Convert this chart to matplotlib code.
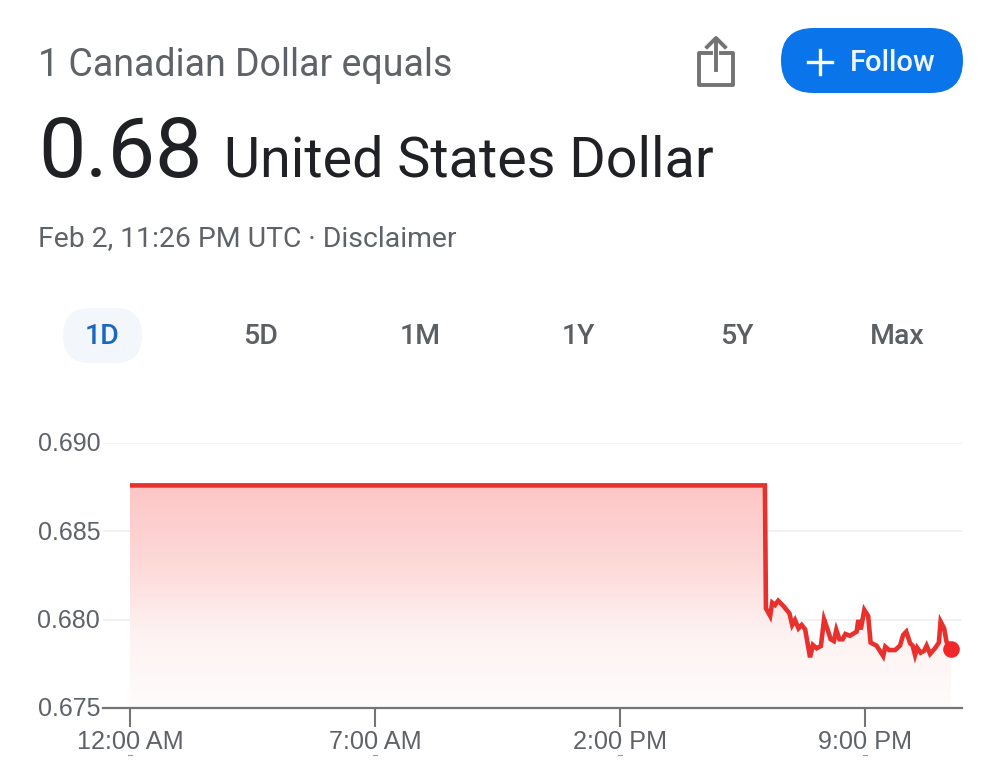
# plot.py
import numpy as np
import matplotlib
matplotlib.use("Agg")
import matplotlib.pyplot as plt
from matplotlib.patches import FancyBboxPatch, Polygon
from matplotlib.colors import LinearSegmentedColormap
from matplotlib.transforms import ScaledTranslation

# hours since midnight, CAD to USD rate
hours = [0, 18.14, 18.17, 18.29, 18.35, 18.43, 18.52, 18.67, 18.84, 18.92, 19.0, 19.10,
         19.19, 19.29, 19.43, 19.51, 19.62, 19.74, 19.83, 19.92, 20.02, 20.11, 20.18,
         20.27, 20.36, 20.44, 20.57, 20.76, 20.81, 20.88, 20.98, 21.09, 21.16, 21.33,
         21.52, 21.58, 21.69, 21.86, 22.0, 22.09, 22.18, 22.29, 22.36, 22.43, 22.49,
         22.59, 22.69, 22.76, 22.86, 23.0, 23.11, 23.16, 23.26, 23.33, 23.46]
rate = [0.6876, 0.6876, 0.68064, 0.68021, 0.68096, 0.68083, 0.68107, 0.68077, 0.68036,
        0.6797, 0.67998, 0.67951, 0.6797, 0.67945, 0.67787, 0.67857, 0.67838, 0.67851,
        0.68002, 0.67951, 0.67889, 0.67879, 0.67942, 0.67889, 0.67889, 0.67919, 0.67909,
        0.67932, 0.67998, 0.67945, 0.68055, 0.68021, 0.6787, 0.67853, 0.67794, 0.67847,
        0.67828, 0.67828, 0.67853, 0.67913, 0.67932, 0.67866, 0.67853, 0.678, 0.67841,
        0.67813, 0.67824, 0.67853, 0.67806, 0.67838, 0.6787, 0.67989, 0.67951, 0.67875,
        0.67834]

y_ticks = [0.675, 0.680, 0.685, 0.690]
y_labels = ["0.675", "0.680", "0.685", "0.690"]
x_ticks = [0, 7, 14, 21]
x_labels = ["12:00 AM", "7:00 AM", "2:00 PM", "9:00 PM"]
ranges = ["1D", "5D", "1M", "1Y", "5Y", "Max"]

W, H = 1000, 767
GREY = "#5f6368"
DARK = "#202124"
RED = "#e8302c"

plt.rcParams["font.family"] = ["Roboto", "DejaVu Sans"]
fig = plt.figure(figsize=(W / 100, H / 100), dpi=100, facecolor="white")

# chart area, placed in pixels (x 103-962, y 443-708)
ax = fig.add_axes([103 / W, 1 - 708 / H, (962 - 103) / W, (708 - 443) / H])
ax.set_xlim(-27 / 35, 832 / 35)
ax.set_ylim(0.675, 0.690)
for s in ["top", "right", "left"]:
    ax.spines[s].set_visible(False)
ax.spines["bottom"].set_color("#757575")
ax.spines["bottom"].set_linewidth(1.6)

ax.set_yticks(y_ticks)
ax.set_yticklabels(y_labels, family="Liberation Sans", fontsize=18, color=GREY)
ax.tick_params(axis="y", length=0, pad=2)
ax.set_xticks(x_ticks)
ax.set_xticklabels(x_labels, family="Liberation Sans", fontsize=18.2, color=GREY)
ax.tick_params(axis="x", length=14, width=1.5, color="#757575", pad=2)
nudge = ScaledTranslation(0, -1.5 / 100, fig.dpi_scale_trans)
for t in ax.get_yticklabels():
    t.set_verticalalignment("center")
    t.set_transform(t.get_transform() + nudge)
ax.grid(axis="y", color="#f0f0f0", lw=1.3)
ax.set_axisbelow(True)

# pink gradient under the line
cmap = LinearSegmentedColormap.from_list("fade", ["#fffcfc", "#fef2f2", "#fdd8d7", "#fcc6c5"])
grad = np.linspace(0, 1, 256).reshape(-1, 1)
im = ax.imshow(grad, origin="lower", aspect="auto", cmap=cmap, vmin=0, vmax=1,
               extent=[hours[0], hours[-1], 0.675, max(rate)], zorder=1)
poly = Polygon(list(zip(hours, rate)) + [(hours[-1], 0.675), (hours[0], 0.675)],
               closed=True, transform=ax.transData, facecolor="none", edgecolor="none")
ax.add_patch(poly)
im.set_clip_path(poly)
ax.set_xlim(-27 / 35, 832 / 35)
ax.set_ylim(0.675, 0.690)

ax.plot(hours, rate, color=RED, lw=3.3, solid_joinstyle="miter", solid_capstyle="butt", zorder=3)
ax.plot(hours[-1], rate[-1], "o", color="#f0282a", ms=12, mew=0, zorder=4)

# page furniture, drawn in pixel coordinates
ov = fig.add_axes([0, 0, 1, 1], facecolor="none")
ov.set_xlim(0, W)
ov.set_ylim(H, 0)
ov.axis("off")

ov.text(38, 65, "1 Canadian Dollar equals", fontsize=27, color=GREY, va="center")
ov.text(38, 154, "0.68", fontsize=60.7, color=DARK, va="center")
ov.text(224, 161, "United States Dollar", fontsize=40.1, color=DARK, va="center")
ov.text(38, 239, "Feb 2, 11:26 PM UTC · Disclaimer", fontsize=20.4, color=GREY, va="center")

# share icon
ov.plot([711, 699, 699, 733, 733, 721], [53, 53, 85, 85, 53, 53], color="#737373", lw=2.8,
        solid_joinstyle="round")
ov.plot([716, 716], [70, 40], color="#737373", lw=2.8)
ov.plot([707, 716, 725], [47, 38, 47], color="#737373", lw=2.8)

# follow button
ov.add_patch(FancyBboxPatch((781, 28), 182, 65, boxstyle="round,pad=0,rounding_size=32.5",
                            fc="#0a74ea", ec="none"))
ov.plot([808, 832], [62, 62], color="white", lw=2.4)
ov.plot([820, 820], [50, 74], color="white", lw=2.4)
ov.text(850, 63, "Follow", fontsize=21, color="#eef5fe", weight="medium", va="center")

# range tabs
ov.add_patch(FancyBboxPatch((63, 308), 79, 55, boxstyle="round,pad=0,rounding_size=27",
                            fc="#f3f7fc", ec="none"))
tab_x = [102, 261, 420, 578, 737, 897]
for i, r in enumerate(ranges):
    ov.text(tab_x[i], 337, r, fontsize=20.5, weight="medium", ha="center", va="center",
            color="#1a67c0" if i == 0 else "#5c5f63")

# tick stubs of the next row, cut off in the screenshot
for px in [130, 375, 620, 865]:
    ov.plot([px - 2, px + 2], [755, 755], color="#9a9a9a", lw=0.8)

fig.savefig("out.png", dpi=100)
